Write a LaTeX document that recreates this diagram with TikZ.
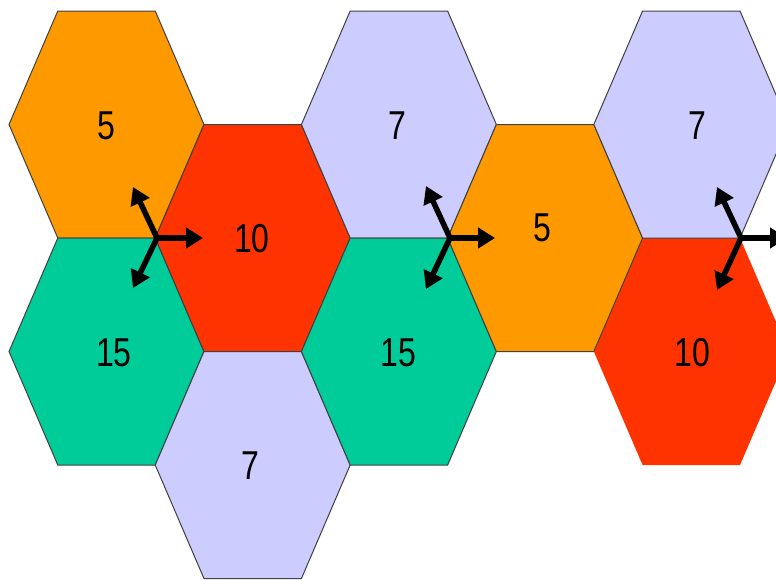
\documentclass[tikz,border=0pt]{standalone}
\usepackage{fontspec}
\usepackage{graphicx}
\setmainfont{Liberation Sans}
\usetikzlibrary{arrows.meta}
\definecolor{hexorange}{HTML}{FF9900}
\definecolor{hexred}{HTML}{FF3300}
\definecolor{hexlav}{HTML}{CCCCFF}
\definecolor{hexgreen}{HTML}{00CC99}
\newcommand{\hexcell}[4][hexline]{%
  \begin{scope}[shift={(#2,#3)}]
    \path[#1, fill=#4] (-97.47,0) -- (-48.73,-113.5) -- (48.73,-113.5) -- (97.47,0) -- (48.73,113.5) -- (-48.73,113.5) -- cycle;
  \end{scope}}
\newcommand{\numtxt}[1]{\scalebox{1}[1.26]{#1}}
\tikzset{
  hexline/.style={draw=black!75, line width=1pt, line join=miter},
  hexnoline/.style={},
  numlabel/.style={font=\fontsize{32}{32}\selectfont, text=black, inner sep=0pt},
  arw/.style={line width=5.5pt, draw=black, -{Triangle[length=17pt,width=20pt]}}
}
\begin{document}
\begin{tikzpicture}[x=1pt,y=-1pt]
\useasboundingbox (0,0) rectangle (776,579);
\clip (0,0) rectangle (776,579);
% column 4 red (no outline) first
\hexcell[hexnoline]{691.3}{351.5}{hexred}
% column 0
\hexcell{106.5}{124.5}{hexorange}
\hexcell{106.5}{351.5}{hexgreen}
% column 1
\hexcell{252.7}{238}{hexred}
\hexcell{252.7}{465}{hexlav}
% column 2
\hexcell{398.9}{124.5}{hexlav}
\hexcell{398.9}{351.5}{hexgreen}
% column 3
\hexcell{545.1}{238}{hexorange}
% column 4
\hexcell{691.3}{124.5}{hexlav}
% labels
\node[numlabel] (a5)   at (106,126) {\numtxt{5}};
\node[numlabel] (a15)  at (114,353) {\numtxt{15}};
\node[numlabel] (b10)  at (252,239) {\numtxt{10}};
\node[numlabel] (b7)   at (250,466) {\numtxt{7}};
\node[numlabel] (c7)   at (397,126) {\numtxt{7}};
\node[numlabel] (c15)  at (398,353) {\numtxt{15}};
\node[numlabel] (d5)   at (542,228) {\numtxt{5}};
\node[numlabel] (e7)   at (697,126) {\numtxt{7}};
\node[numlabel] (e10)  at (692,353) {\numtxt{10}};
% arrow clusters
\coordinate (o1) at (157,238);
\coordinate (o1r) at (203,238);
\coordinate (o1u) at (133,187);
\coordinate (o1d) at (133,288);
\coordinate (o2) at (450,238);
\coordinate (o2r) at (495,238);
\coordinate (o2u) at (426,186);
\coordinate (o2d) at (426,289);
\coordinate (o3) at (741,238);
\coordinate (o3r) at (787,238);
\coordinate (o3u) at (717,187);
\coordinate (o3d) at (717,290);
\foreach \o in {o1,o2,o3}{
  \draw[arw] (\o) -- (\o r);
  \draw[arw] (\o) -- (\o u);
  \draw[arw] (\o) -- (\o d);
}
\end{tikzpicture}
\end{document}
